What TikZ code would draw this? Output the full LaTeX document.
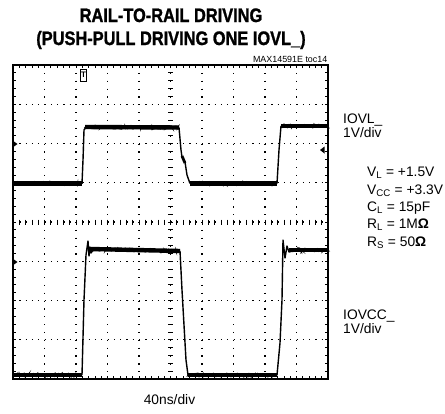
\documentclass[tikz,border=0pt]{standalone}
\usepackage{fontspec}
\setmainfont{Liberation Sans}
\newfontfamily\titlefont[FakeStretch=0.84,FakeBold=1.2]{Liberation Sans Bold}
\usepackage{tikz}
\usetikzlibrary{calc}
\usetikzlibrary{decorations.pathmorphing}

\tikzset{
	level/.style={line width=4.4pt,
		postaction={draw,decorate,line width=0.8pt,
			decoration={random steps,segment length=1pt,amplitude=2pt}}},
	edge/.style={line width=1.4pt,line join=round},
	dots/.style={line width=1.2pt},
	lbl/.style={anchor=base west,inner sep=0pt,font=\fontsize{13.8}{15}\selectfont},
}

\begin{document}
\begin{tikzpicture}[x=1pt,y=-1pt]
	\useasboundingbox (0,0) rectangle (445,413);

	\node[anchor=base,inner sep=0pt,font=\titlefont\fontsize{19.5}{20}\selectfont] (title1) at (171,22){RAIL-TO-RAIL DRIVING};
	\node[anchor=base,inner sep=0pt,font=\titlefont\fontsize{19.5}{20}\selectfont] (title2) at (171,45){(PUSH-PULL DRIVING ONE IOVL\_)};
	\node[anchor=base east,inner sep=0pt,font=\fontsize{8.9}{9}\selectfont] (tocid) at (327.5,62){MAX14591E toc14};

	%dotted graticule
	\foreach \i in {1,2,3,4,6,7,8,9}
		\draw[dots,dash pattern=on 1.2pt off 6.65pt](13+31.5*\i,65)--(13+31.5*\i,379);
	\foreach \j in {1,2,3,5,6,7}
		\draw[dots,dash pattern=on 1.2pt off 5.1pt](13,65+39.25*\j)--(328,65+39.25*\j);
	\draw[dots,dash pattern=on 1.2pt off 6.65pt](170.5,65)--(170.5,379);
	\draw[dots,dash pattern=on 1.2pt off 5.1pt](13,222)--(328,222);

	%minor ticks on centre axes and frame
	\foreach \k in {1,...,49}{
		\draw[line width=0.8pt](13+6.3*\k,219.5)--(13+6.3*\k,224.5);
		\draw[line width=0.8pt](13+6.3*\k,65)--(13+6.3*\k,68);
		\draw[line width=0.8pt](13+6.3*\k,376)--(13+6.3*\k,379);
	}
	\foreach \k in {1,...,39}{
		\draw[line width=0.8pt](168,65+7.85*\k)--(173,65+7.85*\k);
		\draw[line width=0.8pt](13,65+7.85*\k)--(16,65+7.85*\k);
		\draw[line width=0.8pt](325,65+7.85*\k)--(328,65+7.85*\k);
	}

	\draw[line width=2pt](13,65) rectangle (328,379);

	%IOVL_ trace
	\draw[level](13,183.5)--(82,183.5);
	\draw[edge](82,183.5)--(83,160)--(84,130)--(86,127);
	\draw[level](85,127)--(179,127.5);
	\draw[edge](179,127.5)--(181,150)--(182,157);
	\draw[line width=2.8pt](182,156)--(185,163);
	\draw[edge](185,162)--(187,175)--(190,183.5);
	\draw[level](190,183.5)--(277,183.5);
	\draw[edge](277,183.5)--(279,150)--(281,126);
	\draw[level](281,126)--(328,126);

	%IOVCC_ trace
	\draw[level](13,375)--(82,375);
	\draw[edge](82,375)--(84,300)--(86,255)--(88,241)--(89,256)--(90,247)--(91,253)--(93,250);
	\draw[level](91,249)--(180,251);
	\draw[edge](180,251)--(182,290)--(186,360)--(188,375);
	\draw[level](188,375)--(277,375);
	\draw[edge](277,375)--(280,343)--(282,300)--(283,240)--(285,258)--(287,246)--(289,252)--(291,250);
	\draw[level](289,250)--(328,250);

	%markers
	\node[draw,fill=white,line width=0.9pt,inner sep=0pt,minimum width=5.5pt,minimum height=12pt,font=\bfseries\fontsize{8}{8}\selectfont] (trig) at (83.5,75){T};
	\fill(320,150)--(324.5,146.5)--(324.5,153.5)--cycle;
	\fill(14,141.5)--(17.5,144)--(14,146.5)--cycle;
	\fill(14,259.5)--(17.5,262)--(14,264.5)--cycle;

	\node[lbl] (lblvl) at (343,123){IOVL\_};
	\node[lbl] (divvl) at (343,137){1V/div};
	\node[lbl] (vl) at (367,176){V\textsubscript{L} = +1.5V};
	\node[lbl] (vcc) at (367,194){V\textsubscript{CC} = +3.3V};
	\node[lbl] (cl) at (367,211){C\textsubscript{L} = 15pF};
	\node[lbl] (rl) at (367,228.5){R\textsubscript{L} = 1M\textbf{Ω}};
	\node[lbl] (rs) at (367,246){R\textsubscript{S} = 50\textbf{Ω}};
	\node[lbl] (lblvcc) at (343,319){IOVCC\_};
	\node[lbl] (divvcc) at (343,333){1V/div};

	\node[anchor=base,inner sep=0pt,font=\fontsize{13.8}{15}\selectfont] (timebase) at (169.5,404){40ns/div};

\end{tikzpicture}
\end{document}
